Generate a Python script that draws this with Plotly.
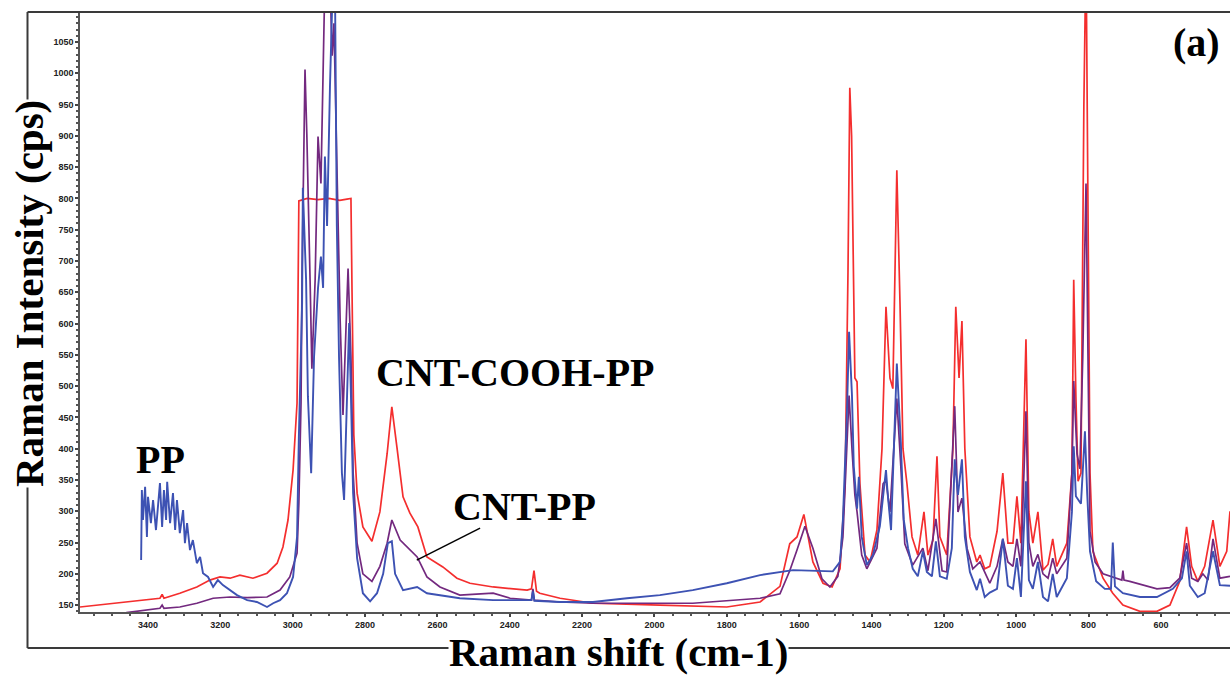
import plotly.graph_objects as go

# ---------------- data ----------------
# CNT-COOH-PP (red)
red_x = [3588, 3497, 3403, 3367, 3361, 3356, 3312, 3265, 3229, 3201,
         3173, 3146, 3110, 3071, 3043, 3027, 3013, 2999, 2988, 2985,
         2983, 2960, 2930, 2900, 2870, 2850, 2839, 2836, 2833, 2831,
         2822, 2806, 2781, 2759, 2739, 2726, 2712, 2695, 2676, 2654,
         2629, 2585, 2546, 2510, 2446, 2352, 2340, 2333, 2326, 2317,
         2261, 2170, 1985, 1800, 1708, 1653, 1626, 1606, 1587, 1562,
         1534, 1509, 1487, 1473, 1465, 1460, 1455, 1451, 1446, 1440,
         1432, 1418, 1404, 1385, 1371, 1360, 1349, 1341, 1330, 1321,
         1313, 1302, 1288, 1272, 1255, 1244, 1230, 1219, 1211, 1192,
         1175, 1167, 1158, 1150, 1142, 1128, 1109, 1100, 1087, 1073,
         1053, 1037, 1023, 1009, 998, 987, 973, 965, 954, 940,
         926, 912, 899, 888, 860, 846, 841, 835, 829, 821,
         813, 807, 802, 796, 788, 760, 733, 705, 658, 611,
         575, 548, 529, 515, 498, 479, 456, 437, 418, 409]
red_y = [147, 153, 158, 161, 167, 161, 169, 179, 190, 195,
         193, 198, 193, 201, 217, 243, 286, 366, 473, 633,
         796, 800, 798, 800, 797, 799, 800, 650, 547, 422,
         329, 275, 252, 299, 392, 467, 403, 323, 297, 275,
         227, 211, 193, 185, 179, 174, 176, 205, 172, 169,
         161, 153, 150, 147, 155, 180, 248, 259, 295, 219,
         185, 179, 208, 344, 683, 977, 900, 739, 513, 507,
         344, 230, 219, 270, 400, 627, 513, 496, 845, 627,
         400, 344, 259, 230, 299, 230, 254, 388, 259, 230,
         400, 627, 513, 604, 400, 259, 219, 230, 208, 212,
         268, 361, 249, 249, 324, 249, 575, 299, 249, 299,
         206, 215, 256, 212, 249, 361, 670, 484, 348, 361,
         947, 1200, 731, 361, 236, 193, 169, 150, 140, 140,
         150, 188, 275, 212, 188, 212, 286, 212, 236, 300]

# CNT-PP (purple)
purple_x = [3460, 3400, 3367, 3361, 3356, 3312, 3265, 3220, 3173, 3126,
            3071, 3035, 3008, 2988, 2983, 2977, 2974, 2966, 2961, 2952,
            2947, 2938, 2930, 2922, 2916, 2911, 2897, 2891, 2886, 2878,
            2869, 2861, 2853, 2847, 2839, 2833, 2822, 2806, 2781, 2759,
            2739, 2726, 2703, 2656, 2629, 2593, 2538, 2446, 2399, 2340,
            2336, 2332, 2261, 2170, 1894, 1708, 1653, 1626, 1606, 1584,
            1562, 1537, 1515, 1493, 1479, 1468, 1462, 1454, 1446, 1440,
            1427, 1413, 1385, 1368, 1360, 1349, 1330, 1319, 1308, 1286,
            1258, 1244, 1222, 1205, 1192, 1170, 1161, 1150, 1136, 1120,
            1100, 1081, 1073, 1053, 1037, 1023, 1009, 998, 987, 973,
            965, 954, 940, 926, 912, 899, 888, 860, 846, 841,
            832, 824, 816, 807, 802, 796, 782, 760, 708, 705,
            702, 686, 611, 575, 548, 529, 515, 498, 484, 470,
            456, 437, 409]
purple_y = [138, 142, 145, 150, 145, 147, 153, 161, 163, 162,
            163, 174, 195, 233, 313, 473, 686, 1006, 903, 670,
            528, 670, 899, 824, 1009, 1150, 1150, 1028, 1080, 856,
            608, 454, 577, 688, 547, 361, 249, 200, 188, 212,
            249, 286, 254, 227, 195, 179, 166, 169, 161, 158,
            176, 158, 155, 153, 153, 161, 168, 205, 238, 276,
            241, 192, 179, 196, 259, 400, 485, 400, 326, 299,
            230, 208, 241, 344, 350, 299, 480, 372, 248, 214,
            241, 205, 288, 205, 203, 468, 299, 321, 241, 208,
            219, 195, 185, 212, 256, 219, 212, 256, 212, 460,
            250, 212, 231, 200, 193, 225, 200, 225, 361, 508,
            392, 368, 547, 824, 547, 268, 219, 200, 190, 205,
            190, 188, 176, 178, 193, 249, 193, 188, 200, 190,
            256, 193, 196]

# PP (blue)
blue_x = [3419, 3417, 3414, 3408, 3403, 3400, 3392, 3386, 3378, 3372,
          3367, 3361, 3356, 3350, 3347, 3339, 3331, 3325, 3320, 3312,
          3303, 3298, 3292, 3284, 3276, 3265, 3256, 3248, 3234, 3220,
          3207, 3193, 3173, 3154, 3126, 3099, 3071, 3054, 3035, 3016,
          2999, 2988, 2983, 2974, 2972, 2963, 2958, 2949, 2941, 2930,
          2922, 2916, 2911, 2905, 2897, 2889, 2883, 2878, 2872, 2864,
          2858, 2850, 2844, 2839, 2833, 2822, 2806, 2786, 2767, 2750,
          2737, 2726, 2717, 2695, 2656, 2629, 2538, 2446, 2340, 2336,
          2332, 2261, 2170, 2076, 1985, 1894, 1800, 1708, 1617, 1507,
          1487, 1479, 1468, 1462, 1454, 1449, 1440, 1435, 1427, 1413,
          1396, 1377, 1360, 1355, 1346, 1330, 1319, 1311, 1299, 1286,
          1272, 1258, 1247, 1233, 1222, 1211, 1192, 1178, 1170, 1161,
          1150, 1142, 1128, 1109, 1100, 1087, 1073, 1053, 1037, 1023,
          1009, 998, 987, 973, 965, 954, 940, 926, 912, 899,
          888, 860, 846, 841, 835, 821, 810, 804, 796, 779,
          755, 738, 733, 727, 705, 658, 611, 567, 542, 529,
          520, 498, 479, 456, 437, 409]
blue_y = [222, 334, 286, 339, 259, 323, 281, 318, 270, 313,
          345, 275, 334, 286, 347, 281, 329, 270, 318, 265,
          302, 249, 281, 238, 254, 217, 227, 201, 195, 179,
          190, 182, 174, 166, 158, 155, 147, 153, 158, 169,
          195, 259, 419, 633, 817, 670, 484, 361, 547, 657,
          707, 657, 867, 756, 979, 1150, 1130, 756, 547, 361,
          318, 484, 601, 484, 329, 225, 169, 156, 169, 200,
          249, 252, 200, 174, 179, 169, 161, 158, 158, 172,
          157, 155, 155, 161, 166, 174, 185, 198, 206, 204,
          219, 287, 457, 587, 485, 372, 304, 355, 259, 214,
          230, 276, 366, 326, 270, 536, 411, 287, 241, 208,
          196, 236, 203, 196, 252, 196, 192, 241, 383, 326,
          383, 259, 203, 174, 192, 163, 170, 176, 256, 181,
          176, 225, 163, 348, 190, 176, 219, 163, 156, 200,
          163, 193, 299, 404, 324, 312, 428, 331, 236, 188,
          176, 176, 250, 180, 169, 163, 163, 176, 193, 236,
          181, 163, 169, 236, 182, 181]

x_range = [3588, 409]
y_range = [139, 1098]
x_ticks = [3400, 3200, 3000, 2800, 2600, 2400, 2200, 2000, 1800, 1600, 1400, 1200, 1000, 800, 600]
y_ticks = list(range(150, 1051, 50))

# ---------------- figure ----------------
W, H = 1230, 678
ML, MR, MT, MB = 80, 0, 12, 66
PW, PH = W - ML - MR, H - MT - MB


def px(x):
    return (x - ML) / PW


def py(y):
    return (H - MB - y) / PH


fig = go.Figure()
series = [
    (red_x, red_y, "#F42E2E", 1.7),
    (purple_x, purple_y, "#73297F", 1.7),
    (blue_x, blue_y, "#3D52B3", 1.9),
]
for xs, ys, col, w in series:
    fig.add_trace(go.Scatter(x=xs, y=ys, mode="lines",
                             line=dict(color=col, width=w),
                             hoverinfo="skip", showlegend=False))

tickfont = dict(family="Liberation Sans", size=9, color="#222", weight="bold")

fig.update_layout(
    width=W, height=H,
    margin=dict(l=ML, r=MR, t=MT, b=MB),
    paper_bgcolor="white", plot_bgcolor="white",
    xaxis=dict(range=x_range, tickmode="array", tickvals=x_ticks,
               ticktext=[str(v) for v in x_ticks],
               ticks="outside", ticklen=3, tickcolor="#444", tickwidth=1.5,
               showline=True, linecolor="#555", linewidth=2,
               showgrid=False, zeroline=False, tickfont=tickfont,
               minor=dict(dtick=50, tick0=600, ticks="outside", ticklen=2,
                          tickcolor="#555", showgrid=False)),
    yaxis=dict(range=y_range, tickmode="array", tickvals=y_ticks,
               ticktext=[str(v) for v in y_ticks],
               ticks="outside", ticklen=3, tickcolor="#444", tickwidth=1.5,
               showline=True, linecolor="#555", linewidth=1.5,
               showgrid=False, zeroline=False, tickfont=tickfont,
               minor=dict(dtick=10, tick0=150, ticks="outside", ticklen=2,
                          tickcolor="#555", showgrid=False)),
)

# outer frame
frame_col = "#3a3a3a"
xl, xr = px(27.5), 1.0
yt, yb = py(12), py(648)
for x0, y0, x1, y1 in [(xl, yt, xr, yt), (xl, yt, xl, yb), (xl, yb, xr, yb)]:
    fig.add_shape(type="line", xref="paper", yref="paper",
                  x0=x0, y0=y0, x1=x1, y1=y1,
                  line=dict(color=frame_col, width=2))

# pointer line for CNT-PP label
fig.add_shape(type="line", xref="x", yref="y", x0=2482, y0=273, x1=2657, y1=222,
              line=dict(color="black", width=1.5))

serif = "Liberation Serif"


def label(text, x, y, size=40, angle=0, bg=None):
    fig.add_annotation(text="<b>%s</b>" % text, xref="paper", yref="paper",
                       x=px(x), y=py(y), xanchor="center", yanchor="middle",
                       showarrow=False, textangle=angle,
                       font=dict(family=serif, size=size, color="black"),
                       bgcolor=bg, borderpad=0)


label("PP", 160.5, 460)
label("CNT-COOH-PP", 515, 372)
label("CNT-PP", 524, 506)
label("(a)", 1196, 42)
label("Raman shift (cm-1)", 618.5, 652, size=41, bg="white")
label("Raman Intensity (cps)", 29, 294, size=41, angle=-90, bg="white")

fig.write_html("out.html", config={"displayModeBar": False})
